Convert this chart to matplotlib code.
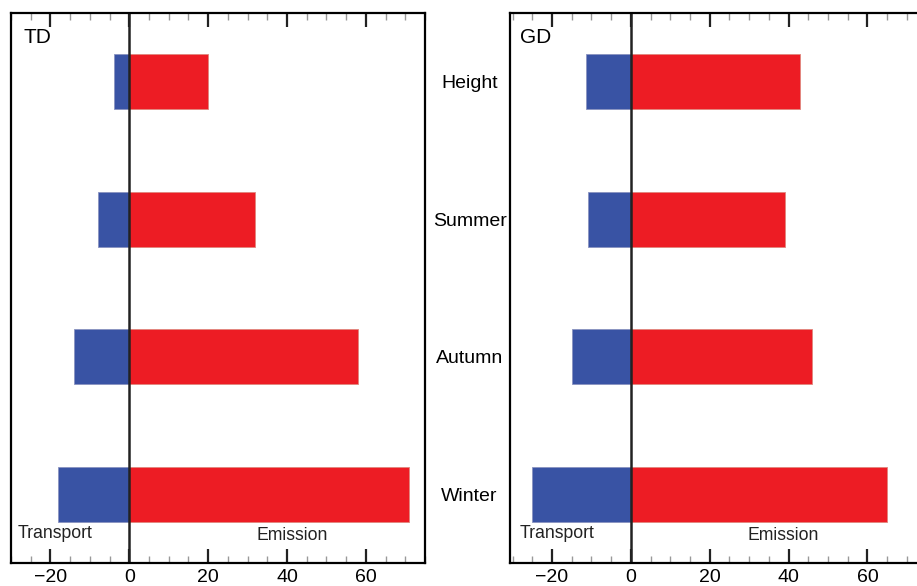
import matplotlib
matplotlib.use("Agg")
import matplotlib.pyplot as plt
from matplotlib.ticker import MultipleLocator

plt.rcParams['font.family'] = ['Liberation Sans', 'DejaVu Sans']

seasons = ["Height", "Summer", "Autumn", "Winter"]
td_transport = [-4, -8, -14, -18]
td_emission = [20, 32, 58, 71]
gd_transport = [-11.5, -11, -15, -25]
gd_emission = [43, 39, 46, 65]

blue = "#3953a4"
red = "#ed1c24"

fig = plt.figure(figsize=(9.17, 5.86), dpi=100)
ax1 = fig.add_axes([0.012, 0.039, 0.4515, 0.939])
ax2 = fig.add_axes([0.556, 0.039, 0.4515, 0.939])

ypos = list(range(len(seasons)))

def panel(ax, transport, emission, name, emis_x, xmin):
    ax.barh(ypos, transport, height=0.4, color=blue, edgecolor="#8a93c0", linewidth=0.6)
    ax.barh(ypos, emission, height=0.4, color=red, edgecolor="#e0867d", linewidth=0.6)
    ax.axvline(0, color="#222222", lw=1.8)
    ax.set_xlim(xmin, xmin + 105)
    ax.set_ylim(3.5, -0.5)
    ax.xaxis.set_major_locator(MultipleLocator(20))
    ax.xaxis.set_minor_locator(MultipleLocator(5))
    ax.tick_params(axis='x', which='major', direction='in', length=10, width=1.6,
                   top=True, labelsize=14, pad=4, color="#222222")
    ax.tick_params(axis='x', which='minor', direction='in', length=5, width=1,
                   top=True, color="#999999")
    for s in ax.spines.values():
        s.set_linewidth(1.6)
    ax.text(0.031 if name == "TD" else 0.024, 0.956, name, transform=ax.transAxes,
            fontsize=15, va='center', ha='left')
    ax.text(0.017 if name == "TD" else 0.024, 0.053, "Transport", transform=ax.transAxes,
            fontsize=12.7, va='center', ha='left', color="#222222")
    ax.text(emis_x, 0.051, "Emission", transform=ax.transAxes,
            fontsize=12.7, va='center', ha='center', color="#222222")

panel(ax1, td_transport, td_emission, "TD", 0.679, -30)
panel(ax2, gd_transport, gd_emission, "GD", 0.661, -30.7)

ax1.set_yticks([])
ax2.set_yticks(ypos)
ax2.set_yticklabels(seasons, fontsize=14, ha='center')
ax2.tick_params(axis='y', length=0, pad=29)

fig.savefig("out.png", dpi=100)
